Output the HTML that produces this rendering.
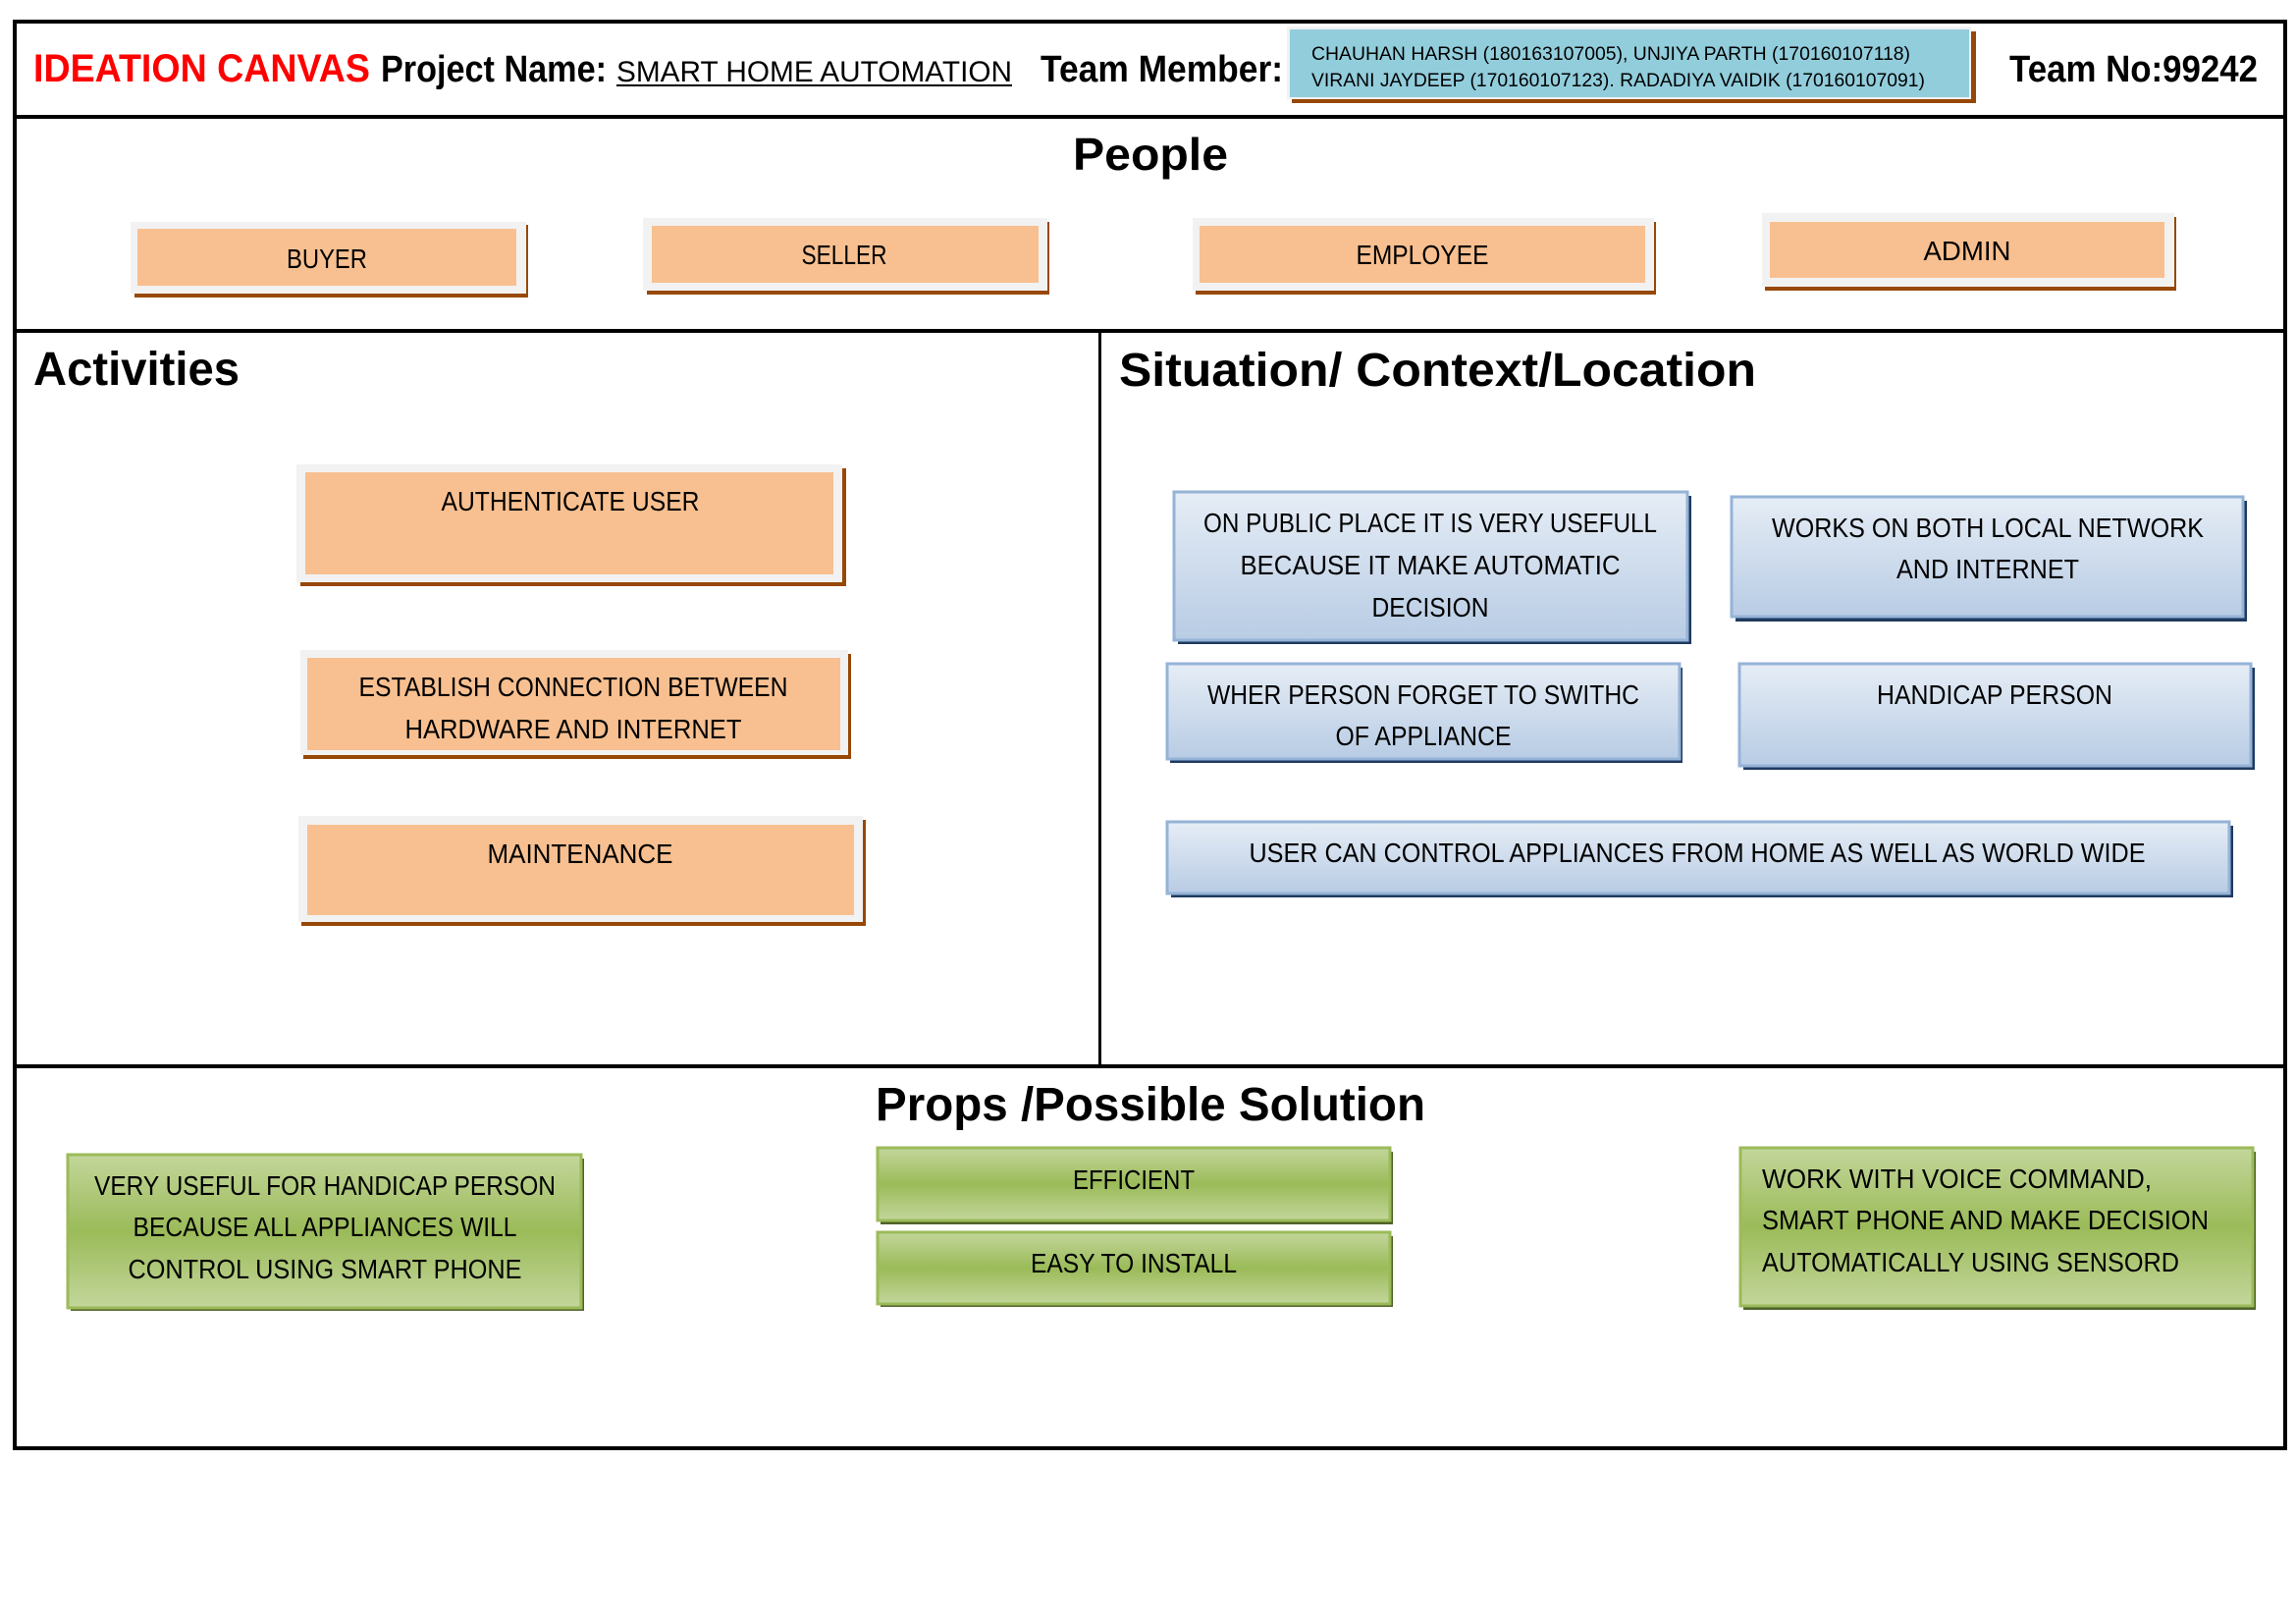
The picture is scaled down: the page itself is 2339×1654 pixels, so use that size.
<!DOCTYPE html>
<html><head><meta charset="utf-8"><style>
html,body{margin:0;padding:0;background:#fff;}
svg{display:block;}
text{font-family:"Liberation Sans",sans-serif;}
.b{font-weight:bold;}
.t{font-size:28px;fill:#000;}
</style></head><body>
<svg width="2339" height="1654" viewBox="0 0 2339 1654" xmlns="http://www.w3.org/2000/svg">
<defs>
<linearGradient id="blue" x1="0" y1="0" x2="0" y2="1">
<stop offset="0" stop-color="#e6edf6"/><stop offset="1" stop-color="#b8cce4"/></linearGradient>
<linearGradient id="green" x1="0" y1="0" x2="0" y2="1">
<stop offset="0" stop-color="#c3d69b"/><stop offset="0.5" stop-color="#9bbb59"/><stop offset="1" stop-color="#c3d69b"/></linearGradient>
</defs>
<rect width="2339" height="1654" fill="#fff"/>
<rect x="15" y="22" width="2313" height="1453" fill="none" stroke="#000" stroke-width="4"/>
<rect x="15" y="117" width="2313" height="4" fill="#000"/>
<rect x="15" y="335" width="2313" height="4" fill="#000"/>
<rect x="1119" y="337" width="3" height="749" fill="#000"/>
<rect x="15" y="1084" width="2313" height="4" fill="#000"/>

<text x="34" y="83" class="b" font-size="40" fill="#ff0000" textLength="343" lengthAdjust="spacingAndGlyphs">IDEATION CANVAS</text>
<text x="388" y="83" class="b" font-size="38" textLength="230" lengthAdjust="spacingAndGlyphs">Project Name:</text>
<text x="628" y="83" font-size="30" textLength="403" lengthAdjust="spacingAndGlyphs">SMART HOME AUTOMATION</text>
<rect x="628" y="86" width="403" height="2" fill="#000"/>
<text x="1060" y="83" class="b" font-size="38" textLength="247" lengthAdjust="spacingAndGlyphs">Team Member:</text>
<rect x="1316" y="32" width="697" height="73" fill="#974806"/>
<rect x="1311" y="27" width="697" height="74" fill="#f2f2f2"/>
<rect x="1314" y="30" width="692" height="69" fill="#92cddc"/>
<text x="1336" y="61" font-size="19" textLength="610" lengthAdjust="spacingAndGlyphs">CHAUHAN HARSH (180163107005), UNJIYA PARTH (170160107118)</text>
<text x="1336" y="88" font-size="19" textLength="625" lengthAdjust="spacingAndGlyphs">VIRANI JAYDEEP (170160107123). RADADIYA VAIDIK (170160107091)</text>
<text x="2047" y="83" class="b" font-size="38" textLength="253" lengthAdjust="spacingAndGlyphs">Team No:99242</text>

<text x="1093" y="173" class="b" font-size="46" textLength="158" lengthAdjust="spacingAndGlyphs">People</text>
<g>
<rect x="137" y="229" width="401" height="74" fill="#974806"/>
<rect x="133" y="226" width="403" height="73" fill="#f2f2f2"/>
<rect x="140" y="233" width="386" height="58" fill="#f8c090"/>
<text x="333" y="273" text-anchor="middle" class="t" textLength="82" lengthAdjust="spacingAndGlyphs">BUYER</text>
</g>
<g>
<rect x="659" y="226" width="410" height="74" fill="#974806"/>
<rect x="655" y="222" width="412" height="74" fill="#f2f2f2"/>
<rect x="664" y="230" width="394" height="58" fill="#f8c090"/>
<text x="860" y="269" text-anchor="middle" class="t" textLength="87" lengthAdjust="spacingAndGlyphs">SELLER</text>
</g>
<g>
<rect x="1218" y="226" width="469" height="74" fill="#974806"/>
<rect x="1215" y="222" width="470" height="74" fill="#f2f2f2"/>
<rect x="1222" y="230" width="454" height="58" fill="#f8c090"/>
<text x="1449" y="269" text-anchor="middle" class="t" textLength="135" lengthAdjust="spacingAndGlyphs">EMPLOYEE</text>
</g>
<g>
<rect x="1798" y="221" width="419" height="75" fill="#974806"/>
<rect x="1795" y="217" width="420" height="75" fill="#f2f2f2"/>
<rect x="1803" y="226" width="402" height="57" fill="#f8c090"/>
<text x="2004" y="265" text-anchor="middle" class="t" textLength="89" lengthAdjust="spacingAndGlyphs">ADMIN</text>
</g>

<text x="34" y="392" class="b" font-size="48" textLength="210" lengthAdjust="spacingAndGlyphs">Activities</text>
<g>
<rect x="306" y="477" width="556" height="120" fill="#974806"/>
<rect x="302" y="473" width="556" height="120" fill="#f2f2f2"/>
<rect x="311" y="481" width="538" height="104" fill="#f8c090"/>
<text x="581" y="520" text-anchor="middle" class="t" textLength="263" lengthAdjust="spacingAndGlyphs">AUTHENTICATE USER</text>
</g>
<g>
<rect x="309" y="666" width="558" height="107" fill="#974806"/>
<rect x="306" y="662" width="558" height="107" fill="#f2f2f2"/>
<rect x="313" y="670" width="543" height="94" fill="#f8c090"/>
<text x="584" y="709" text-anchor="middle" class="t" textLength="437" lengthAdjust="spacingAndGlyphs">ESTABLISH CONNECTION BETWEEN</text>
<text x="584" y="752" text-anchor="middle" class="t" textLength="343" lengthAdjust="spacingAndGlyphs">HARDWARE AND INTERNET</text>
</g>
<g>
<rect x="307" y="835" width="575" height="108" fill="#974806"/>
<rect x="304" y="831" width="575" height="108" fill="#f2f2f2"/>
<rect x="313" y="840" width="557" height="92" fill="#f8c090"/>
<text x="591" y="879" text-anchor="middle" class="t" textLength="189" lengthAdjust="spacingAndGlyphs">MAINTENANCE</text>
</g>

<text x="1140" y="393" class="b" font-size="48" textLength="649" lengthAdjust="spacingAndGlyphs">Situation/ Context/Location</text>
<g>
<rect x="1200" y="505" width="523" height="151" fill="#1f3a60"/>
<rect x="1196" y="501" width="523" height="151" fill="url(#blue)" stroke="#95b3d7" stroke-width="3"/>
<text x="1457" y="542" text-anchor="middle" class="t" textLength="462" lengthAdjust="spacingAndGlyphs">ON PUBLIC PLACE IT IS VERY USEFULL</text>
<text x="1457" y="585" text-anchor="middle" class="t" textLength="387" lengthAdjust="spacingAndGlyphs">BECAUSE IT MAKE AUTOMATIC</text>
<text x="1457" y="628" text-anchor="middle" class="t" textLength="119" lengthAdjust="spacingAndGlyphs">DECISION</text>
</g>
<g>
<rect x="1768" y="510" width="521" height="123" fill="#1f3a60"/>
<rect x="1764" y="506" width="521" height="122" fill="url(#blue)" stroke="#95b3d7" stroke-width="3"/>
<text x="2025" y="547" text-anchor="middle" class="t" textLength="440" lengthAdjust="spacingAndGlyphs">WORKS ON BOTH LOCAL NETWORK</text>
<text x="2025" y="589" text-anchor="middle" class="t" textLength="186" lengthAdjust="spacingAndGlyphs">AND INTERNET</text>
</g>
<g>
<rect x="1192" y="680" width="522" height="97" fill="#1f3a60"/>
<rect x="1189" y="676" width="522" height="97" fill="url(#blue)" stroke="#95b3d7" stroke-width="3"/>
<text x="1450" y="717" text-anchor="middle" class="t" textLength="440" lengthAdjust="spacingAndGlyphs">WHER PERSON FORGET TO SWITHC</text>
<text x="1450" y="759" text-anchor="middle" class="t" textLength="179" lengthAdjust="spacingAndGlyphs">OF APPLIANCE</text>
</g>
<g>
<rect x="1776" y="680" width="521" height="104" fill="#1f3a60"/>
<rect x="1772" y="676" width="521" height="104" fill="url(#blue)" stroke="#95b3d7" stroke-width="3"/>
<text x="2032" y="717" text-anchor="middle" class="t" textLength="240" lengthAdjust="spacingAndGlyphs">HANDICAP PERSON</text>
</g>
<g>
<rect x="1193" y="841" width="1082" height="73" fill="#1f3a60"/>
<rect x="1189" y="837" width="1082" height="73" fill="url(#blue)" stroke="#95b3d7" stroke-width="3"/>
<text x="1729" y="878" text-anchor="middle" class="t" textLength="913" lengthAdjust="spacingAndGlyphs">USER CAN CONTROL APPLIANCES FROM HOME AS WELL AS WORLD WIDE</text>
</g>

<text x="892" y="1141" class="b" font-size="48" textLength="560" lengthAdjust="spacingAndGlyphs">Props /Possible Solution</text>
<g>
<rect x="72" y="1180" width="523" height="155" fill="#4f6228"/>
<rect x="69" y="1176" width="523" height="156" fill="url(#green)" stroke="#9bbb59" stroke-width="3"/>
<text x="331" y="1217" text-anchor="middle" class="t" textLength="470" lengthAdjust="spacingAndGlyphs">VERY USEFUL FOR HANDICAP PERSON</text>
<text x="331" y="1259" text-anchor="middle" class="t" textLength="391" lengthAdjust="spacingAndGlyphs">BECAUSE ALL APPLIANCES WILL</text>
<text x="331" y="1302" text-anchor="middle" class="t" textLength="401" lengthAdjust="spacingAndGlyphs">CONTROL USING SMART PHONE</text>
</g>
<g>
<rect x="897" y="1173" width="522" height="74" fill="#4f6228"/>
<rect x="894" y="1169" width="522" height="74" fill="url(#green)" stroke="#9bbb59" stroke-width="3"/>
<text x="1155" y="1211" text-anchor="middle" class="t" textLength="124" lengthAdjust="spacingAndGlyphs">EFFICIENT</text>
</g>
<g>
<rect x="897" y="1259" width="522" height="72" fill="#4f6228"/>
<rect x="894" y="1255" width="522" height="73" fill="url(#green)" stroke="#9bbb59" stroke-width="3"/>
<text x="1155" y="1296" text-anchor="middle" class="t" textLength="210" lengthAdjust="spacingAndGlyphs">EASY TO INSTALL</text>
</g>
<g>
<rect x="1776" y="1173" width="522" height="161" fill="#4f6228"/>
<rect x="1773" y="1169" width="522" height="161" fill="url(#green)" stroke="#9bbb59" stroke-width="3"/>
<text x="1795" y="1210" class="t" textLength="397" lengthAdjust="spacingAndGlyphs">WORK WITH VOICE COMMAND,</text>
<text x="1795" y="1252" class="t" textLength="455" lengthAdjust="spacingAndGlyphs">SMART PHONE AND MAKE DECISION</text>
<text x="1795" y="1295" class="t" textLength="425" lengthAdjust="spacingAndGlyphs">AUTOMATICALLY USING SENSORD</text>
</g>
</svg>
</body></html>
